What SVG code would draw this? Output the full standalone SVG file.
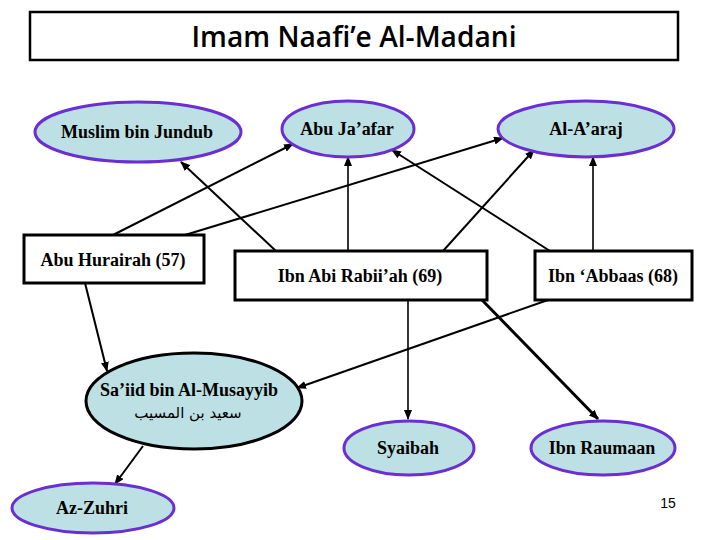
<svg xmlns="http://www.w3.org/2000/svg" width="720" height="540" viewBox="0 0 720 540">
<defs>
<style>
.el{fill:#BCE0E4;stroke:#6A2ED2;stroke-width:3}
.elb{fill:#BCE0E4;stroke:#000;stroke-width:3}
.bx{fill:#fff;stroke:#000;stroke-width:3}
.t{font-family:"Liberation Serif","Times New Roman",serif;font-weight:bold;font-size:18px;fill:#000;text-anchor:middle}
.c{stroke:#000;stroke-width:2;fill:none;marker-end:url(#ah)}
</style>
<marker id="ah" markerUnits="userSpaceOnUse" markerWidth="10" markerHeight="8" refX="9" refY="4" orient="auto">
<path d="M0,0 L10,4 L0,8 z" fill="#000"/>
</marker>
</defs>
<rect width="720" height="540" fill="#fff"/>
<g id="title">
<rect x="30" y="12" width="648" height="48" fill="#fff" stroke="#000" stroke-width="2.5"/>
<text x="354" y="47" font-family="'Open Sans','Noto Sans',sans-serif" font-size="28" font-weight="600" text-anchor="middle" textLength="325" lengthAdjust="spacingAndGlyphs">Imam Naafi’e Al-Madani</text>
</g>
<g id="connectors">
<line class="c" x1="113" y1="235" x2="293" y2="144"/>
<line class="c" x1="185" y1="235" x2="503" y2="138"/>
<line class="c" x1="276" y1="251" x2="181" y2="162"/>
<line class="c" x1="348" y1="251" x2="348" y2="157" style="stroke-width:1.6"/>
<line class="c" x1="443" y1="251" x2="534" y2="150"/>
<line class="c" x1="550" y1="251" x2="392" y2="150"/>
<line class="c" x1="593" y1="251" x2="593" y2="157" style="stroke-width:1.6"/>
<line class="c" x1="85" y1="283" x2="107" y2="371"/>
<line class="c" x1="548" y1="300" x2="297" y2="388"/>
<line class="c" x1="408" y1="300" x2="408" y2="419" style="stroke-width:1.6"/>
<line class="c" x1="482" y1="300" x2="598" y2="419" style="stroke-width:3"/>
<line class="c" x1="143" y1="446" x2="115" y2="484"/>
</g>
<g id="muslim"><ellipse class="el" cx="138" cy="132" rx="103" ry="30"/><text class="t" x="137" y="138">Muslim bin Jundub</text></g>
<g id="abujaafar"><ellipse class="el" cx="348" cy="129" rx="66" ry="28"/><text class="t" x="347" y="135">Abu Ja’afar</text></g>
<g id="alaaraj"><ellipse class="el" cx="586" cy="129" rx="88" ry="28"/><text class="t" x="586" y="135">Al-A’araj</text></g>
<g id="abuhurairah"><rect class="bx" x="24" y="235" width="180" height="48"/><text class="t" x="113" y="266">Abu Hurairah (57)</text></g>
<g id="ibnabirabiiah"><rect class="bx" x="235" y="251" width="252" height="49"/><text class="t" x="360" y="282">Ibn Abi Rabii’ah (69)</text></g>
<g id="ibnabbaas"><rect class="bx" x="535" y="251" width="157" height="49"/><text class="t" x="613" y="282">Ibn ‘Abbaas (68)</text></g>
<g id="saiid"><ellipse class="elb" cx="194" cy="401" rx="108" ry="48"/><text class="t" x="189" y="396">Sa’iid bin Al-Musayyib</text><text x="188" y="418" font-family="'DejaVu Sans',sans-serif" font-size="15" text-anchor="middle">سعيد بن المسيب</text></g>
<g id="syaibah"><ellipse class="el" cx="409" cy="448" rx="65" ry="27"/><text class="t" x="408" y="454">Syaibah</text></g>
<g id="ibnraumaan"><ellipse class="el" cx="603" cy="448" rx="72" ry="27"/><text class="t" x="602" y="454">Ibn Raumaan</text></g>
<g id="azzuhri"><ellipse class="el" cx="93" cy="508" rx="81" ry="25"/><text class="t" x="92" y="514">Az-Zuhri</text></g>
<text x="668" y="508" font-family="'Liberation Sans Narrow','Liberation Sans',sans-serif" font-size="14" text-anchor="middle">15</text>
</svg>
